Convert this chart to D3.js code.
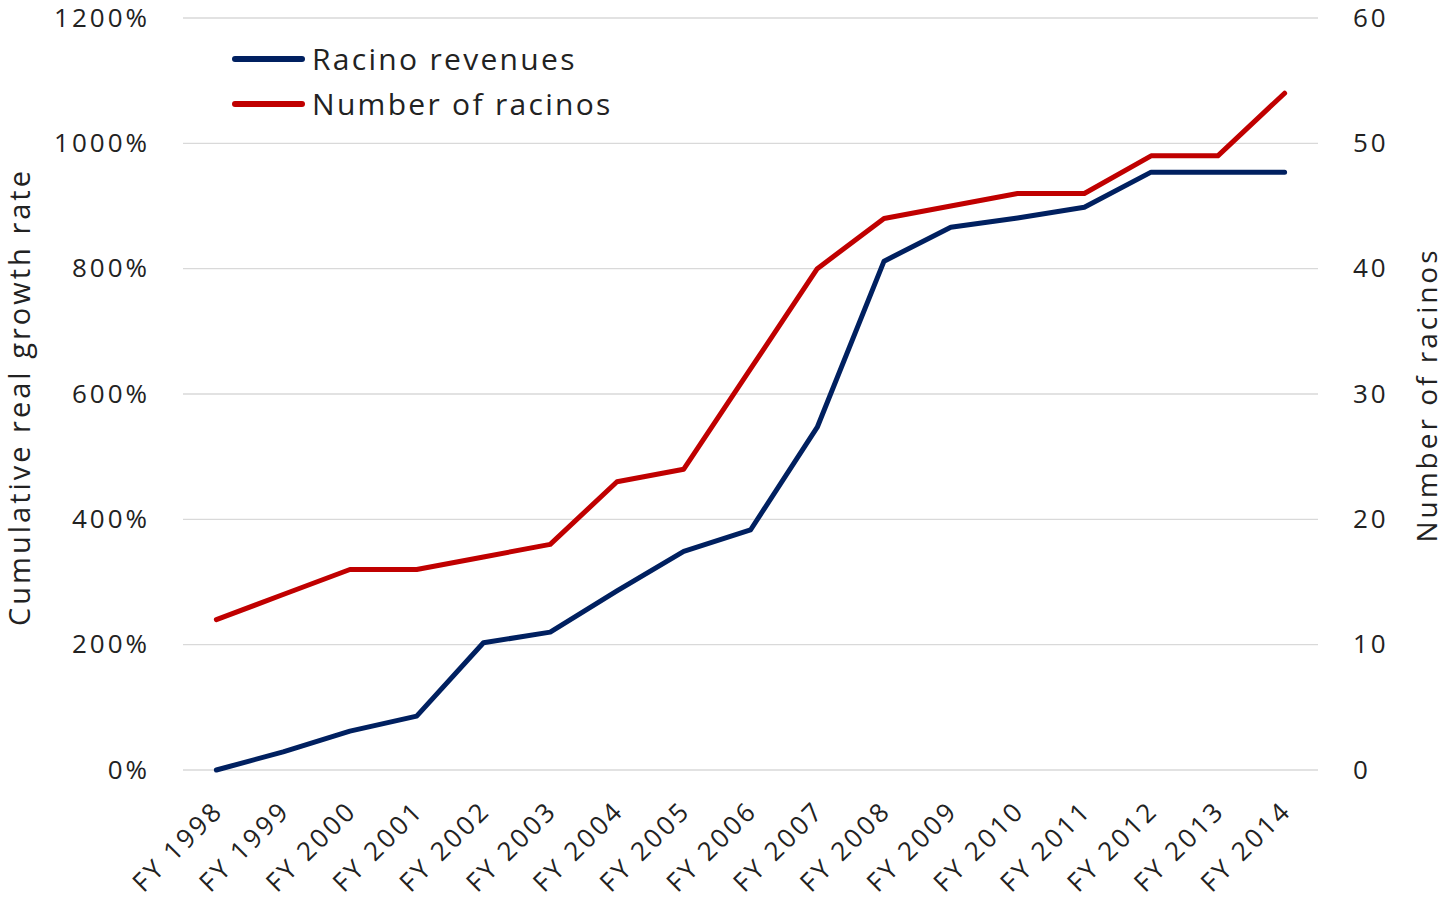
<!DOCTYPE html>
<html>
<head>
<meta charset="utf-8">
<script src="https://cdn.jsdelivr.net/npm/d3@7"></script>
<style>
  body { margin: 0; background: #fff; }
  text { font-family: "Open Sans", sans-serif; fill: #222; }
</style>
</head>
<body>
<div id="chart"></div>
<script>
// data
var years = ["FY 1998", "FY 1999", "FY 2000", "FY 2001", "FY 2002", "FY 2003", "FY 2004", "FY 2005", "FY 2006",
  "FY 2007", "FY 2008", "FY 2009", "FY 2010", "FY 2011", "FY 2012", "FY 2013", "FY 2014"];
var revenueGrowth = [0, 29, 62, 86, 203, 220, 286, 349, 383, 547, 812, 866, 881, 898, 954, 954, 954];
var racinoCount = [12, 14, 16, 16, 17, 18, 23, 24, 32, 40, 44, 45, 46, 46, 49, 49, 54];
var leftTicks = [0, 200, 400, 600, 800, 1000, 1200];
var rightTicks = [0, 10, 20, 30, 40, 50, 60];

var svgWidth = 1445;
var svgHeight = 905;

var margin = { top: 18, bottom: 135, left: 183, right: 127 };
var height = svgHeight - margin.top - margin.bottom;
var width = svgWidth - margin.left - margin.right;

var svg = d3.select("#chart")
  .append("svg")
  .attr("width", svgWidth)
  .attr("height", svgHeight);

var chartGroup = svg.append("g")
  .attr("transform", `translate(${margin.left}, ${margin.top})`);

var xScale = d3.scalePoint()
  .domain(years)
  .range([0, width])
  .padding(0.5);

var yLeft = d3.scaleLinear().domain([0, 1200]).range([height, 0]);
var yRight = d3.scaleLinear().domain([0, 60]).range([height, 0]);

// gridlines
chartGroup.selectAll(".grid")
  .data(leftTicks)
  .enter()
  .append("line")
  .attr("x1", 0)
  .attr("x2", width)
  .attr("y1", d => yLeft(d))
  .attr("y2", d => yLeft(d))
  .attr("stroke", "#d9d9d9")
  .attr("stroke-width", 1.3);

// left axis labels
var leftAxis = d3.axisLeft(yLeft).tickValues(leftTicks).tickFormat(d => d + "%").tickSize(0).tickPadding(33);
chartGroup.append("g").call(leftAxis)
  .call(g => g.select(".domain").remove())
  .selectAll("text")
  .style("font-size", "26px")
  .style("letter-spacing", "3px")
  .attr("fill", "#222");

var rightAxis = d3.axisRight(yRight).tickValues(rightTicks).tickSize(0).tickPadding(35);
chartGroup.append("g")
  .attr("transform", `translate(${width}, 0)`)
  .call(rightAxis)
  .call(g => g.select(".domain").remove())
  .selectAll("text")
  .style("font-size", "26px")
  .style("letter-spacing", "3px")
  .attr("fill", "#222");

// x labels, rotated
var xAxis = d3.axisBottom(xScale).tickSize(0).tickPadding(0);
chartGroup.append("g")
  .attr("transform", `translate(0, ${height})`)
  .call(xAxis)
  .call(g => g.select(".domain").remove())
  .selectAll("text")
  .style("font-size", "26px")
  .style("letter-spacing", "3px")
  .attr("fill", "#222")
  .attr("text-anchor", "end")
  .attr("dy", 0)
  .attr("transform", "translate(8, 42) rotate(-45)");

// lines
var revLine = d3.line()
  .x((d, i) => xScale(years[i]))
  .y(d => yLeft(d));
var countLine = d3.line()
  .x((d, i) => xScale(years[i]))
  .y(d => yRight(d));

chartGroup.append("path")
  .datum(racinoCount)
  .attr("d", countLine)
  .attr("fill", "none")
  .attr("stroke", "#c00000")
  .attr("stroke-width", 5)
  .attr("stroke-linejoin", "round")
  .attr("stroke-linecap", "round");

chartGroup.append("path")
  .datum(revenueGrowth)
  .attr("d", revLine)
  .attr("fill", "none")
  .attr("stroke", "#002060")
  .attr("stroke-width", 5)
  .attr("stroke-linejoin", "round")
  .attr("stroke-linecap", "round");

// axis titles
svg.append("text")
  .attr("transform", "translate(30, 397) rotate(-90)")
  .style("text-anchor", "middle")
  .style("font-size", "29px")
  .style("letter-spacing", "3px")
  .text("Cumulative real growth rate");

svg.append("text")
  .attr("transform", "translate(1437, 395) rotate(-90)")
  .style("text-anchor", "middle")
  .style("font-size", "28px")
  .style("letter-spacing", "3px")
  .text("Number of racinos");

// legend
var legendItems = [
  { name: "Racino revenues", color: "#002060" },
  { name: "Number of racinos", color: "#c00000" }
];
var legend = svg.append("g").attr("transform", "translate(235, 59)");
legendItems.forEach(function(item, i) {
  var g = legend.append("g").attr("transform", `translate(0, ${i * 45})`);
  g.append("line")
    .attr("x1", 0).attr("x2", 67)
    .attr("y1", 0).attr("y2", 0)
    .attr("stroke", item.color)
    .attr("stroke-width", 6)
    .attr("stroke-linecap", "round");
  g.append("text")
    .attr("x", 77)
    .attr("y", 11)
    .style("font-size", "30px")
    .style("letter-spacing", "2.3px")
    .text(item.name);
});
</script>
</body>
</html>
